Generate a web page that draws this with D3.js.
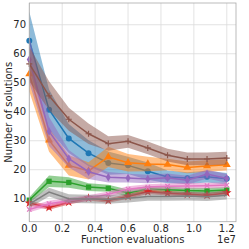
<!DOCTYPE html>
<html>
<head>
<meta charset="utf-8">
<script src="https://cdn.jsdelivr.net/npm/d3@7"></script>
<style>
  body { margin: 0; background: #fff; }
  text { font-family: "DejaVu Sans", sans-serif; fill: #262626; }
</style>
</head>
<body>
<script>
// Function evaluations (x positions, one per sample)
const evals = [0, 1.2e6, 2.4e6, 3.6e6, 4.8e6, 6.0e6, 7.2e6, 8.4e6, 9.6e6, 1.08e7, 1.2e7];

// Mean number of solutions per series
const blueMean   = [64.5, 40.7, 30.8, 25.7, 22.3, 21.5, 19.5, 17.5, 17.1, 17.6, 16.9];
const orangeMean = [53.0, 30.2, 21.5, 19.6, 24.4, 22.4, 22.0, 21.8, 20.8, 21.3, 21.7];
const greenMean  = [9.5, 16.0, 15.6, 14.0, 13.6, 12.0, 13.4, 13.1, 12.8, 12.7, 13.0];
const redMean    = [8.5, 7.0, 8.8, 10.2, 9.4, 10.8, 12.4, 11.9, 11.5, 11.2, 12.0];
const purpleMean = [58.0, 33.2, 23.8, 19.3, 17.4, 17.1, 16.8, 17.2, 16.4, 18.5, 17.0];
const brownMean  = [56.5, 45.5, 37.4, 32.4, 29.0, 29.8, 27.5, 25.0, 23.7, 23.7, 24.0];
const pinkMean   = [6.3, 8.3, 9.3, 10.2, 11.5, 13.3, 14.0, 14.3, 14.4, 14.5, 14.7];
const grayMean   = [8.1, 12.3, 10.0, 9.9, 9.8, 10.2, 10.8, 10.8, 10.9, 10.7, 11.2];

// Spread (shaded band half-width)
const blueStd   = [10, 7, 5, 4.5, 4, 3, 3, 2.2, 2, 2, 2];
const orangeStd = [6, 4, 3.5, 3, 3.5, 3, 2.5, 2, 2, 2, 2];
const greenStd  = [1, 2, 1.8, 1.3, 1.2, 1.2, 1, 1, 1, 1, 1];
const redStd    = [0.8, 0.8, 0.8, 0.8, 0.8, 0.8, 0.8, 0.8, 0.8, 0.8, 0.8];
const purpleStd = [8, 5, 3, 2.5, 1.8, 1.5, 1.5, 1.5, 1.5, 1.5, 1.5];
const brownStd  = [6, 5, 4, 3.5, 2.5, 2.2, 2.2, 2.2, 2.2, 2.2, 2.2];
const pinkStd   = [1, 1, 1, 1, 1, 1, 1, 1, 1, 1, 1];
const grayStd   = [1.2, 1.5, 1.5, 1.5, 1.5, 1.5, 1.5, 1.5, 1.5, 1.5, 1.5];

const xTicks = [0, 2e6, 4e6, 6e6, 8e6, 1e7, 1.2e7];
const yTicks = [10, 20, 30, 40, 50, 60, 70];

const series = [
  { mean: blueMean,   std: blueStd,   color: '#1f77b4', marker: 'circle' },
  { mean: orangeMean, std: orangeStd, color: '#ff7f0e', marker: 'triangle' },
  { mean: greenMean,  std: greenStd,  color: '#2ca02c', marker: 'square' },
  { mean: redMean,    std: redStd,    color: '#d62728', marker: 'star' },
  { mean: purpleMean, std: purpleStd, color: '#9467bd', marker: 'diamond' },
  { mean: brownMean,  std: brownStd,  color: '#8c564b', marker: 'plus' },
  { mean: pinkMean,   std: pinkStd,   color: '#e377c2', marker: 'x' },
  { mean: grayMean,   std: grayStd,   color: '#7f7f7f', marker: 'none' },
];

const W = 249, H = 249;
const margin = { left: 29.3, right: 236, top: 3, bottom: 221.7 };

const svg = d3.select('body').append('svg')
  .attr('width', W).attr('height', H);

const x = d3.scaleLinear().domain([0, 1.256e7]).range([margin.left, margin.right]);
const y = d3.scaleLinear().domain([2.07, 77.5]).range([margin.bottom, margin.top]);

// Grid
svg.append('g').selectAll('line').data(xTicks).join('line')
  .attr('x1', d => x(d)).attr('x2', d => x(d))
  .attr('y1', margin.top).attr('y2', margin.bottom)
  .attr('stroke', '#dcdcdc').attr('stroke-width', 0.8);
svg.append('g').selectAll('line').data(yTicks).join('line')
  .attr('x1', margin.left).attr('x2', margin.right)
  .attr('y1', d => y(d)).attr('y2', d => y(d))
  .attr('stroke', '#dcdcdc').attr('stroke-width', 0.8);

const plot = svg.append('g');

const area = d3.area()
  .x((d, i) => x(evals[i]))
  .y0(d => y(d[0] - d[1]))
  .y1(d => y(d[0] + d[1]));
const line = d3.line()
  .x((d, i) => x(evals[i]))
  .y(d => y(d));

const symbols = {
  circle: d3.symbolCircle, triangle: d3.symbolTriangle, square: d3.symbolSquare,
  star: d3.symbolStar, diamond: d3.symbolDiamond,
};

series.forEach(s => {
  const g = plot.append('g');
  g.append('path')
    .datum(s.mean.map((m, i) => [m, s.std[i]]))
    .attr('d', area)
    .attr('fill', s.color).attr('opacity', 0.5);
  g.append('path')
    .datum(s.mean)
    .attr('d', line)
    .attr('fill', 'none').attr('stroke', s.color).attr('stroke-width', 1.5);
  if (s.marker === 'none') return;
  const stroked = s.marker === 'plus' || s.marker === 'x';
  let shape;
  if (s.marker === 'plus') shape = 'M-3,0H3M0,-3V3';
  else if (s.marker === 'x') shape = 'M-2.2,-2.2L2.2,2.2M-2.2,2.2L2.2,-2.2';
  else shape = d3.symbol(symbols[s.marker], s.marker === 'diamond' ? 22 : 28)();
  g.selectAll('.m').data(s.mean).join('path')
    .attr('transform', (d, i) => `translate(${x(evals[i])},${y(d)})`)
    .attr('d', shape)
    .attr('fill', stroked ? 'none' : s.color)
    .attr('stroke', stroked ? s.color : 'none')
    .attr('stroke-width', 1.2);
});

// Frame
svg.append('rect')
  .attr('x', margin.left).attr('y', margin.top)
  .attr('width', margin.right - margin.left).attr('height', margin.bottom - margin.top)
  .attr('fill', 'none').attr('stroke', '#aaaaaa').attr('stroke-width', 0.8);

// Tick labels
svg.append('g').selectAll('text').data(xTicks).join('text')
  .attr('x', d => x(d)).attr('y', 232)
  .attr('text-anchor', 'middle').attr('font-size', 10)
  .text(d => (d / 1e7).toFixed(1));
svg.append('g').selectAll('text').data(yTicks).join('text')
  .attr('x', 26).attr('y', d => y(d) + 3.6)
  .attr('text-anchor', 'end').attr('font-size', 10)
  .text(d => d);

svg.append('text')
  .attr('x', (margin.left + margin.right) / 2).attr('y', 243)
  .attr('text-anchor', 'middle').attr('font-size', 10)
  .text('Function evaluations');
svg.append('text')
  .attr('x', margin.right).attr('y', 243)
  .attr('text-anchor', 'end').attr('font-size', 10)
  .text('1e7');
svg.append('text')
  .attr('transform', `translate(11.5,${(margin.top + margin.bottom) / 2}) rotate(-90)`)
  .attr('text-anchor', 'middle').attr('font-size', 10)
  .text('Number of solutions');
</script>
</body>
</html>
